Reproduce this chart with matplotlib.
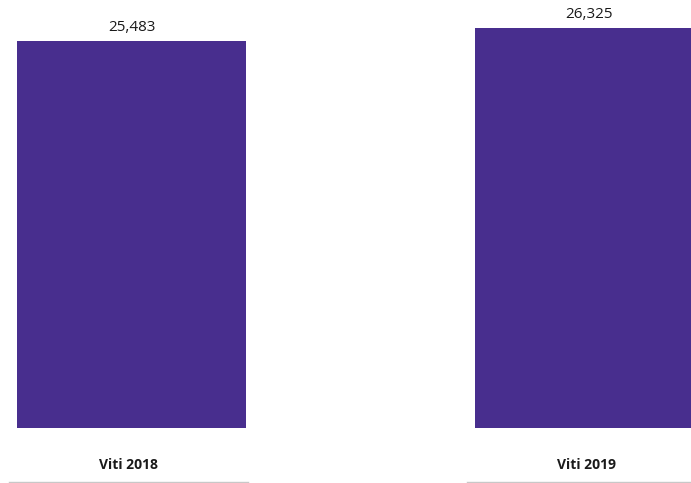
import matplotlib
matplotlib.use("Agg")
import matplotlib.pyplot as plt
import matplotlib.transforms as mtransforms

# --- data ---
categories = ["Viti 2018", "Viti 2019"]
values = [25483, 26325]
value_labels = ["25,483", "26,325"]

plt.rcParams['font.family'] = ['Open Sans', 'DejaVu Sans']

W, H = 691, 483
fig = plt.figure(figsize=(W / 100, H / 100), dpi=100)
# axes: whole width, bottom at the bar baseline (y=428 px from top)
ax = fig.add_axes([0, (H - 428) / H, 1, 428 / H])

spacing = 458.0          # px between bar centres
x0 = 131.5               # px of first bar centre
xs = list(range(len(categories)))
ax.bar(xs, values, width=229 / spacing, color="#482E8E")

ax.set_xlim(-x0 / spacing, (W - x0) / spacing)
ax.set_ylim(0, 428 / 0.01519)
ax.axis("off")

for x, v, lab in zip(xs, values, value_labels):
    ax.annotate(lab, (x, v), xytext=(0, 9.8), textcoords="offset points",
                ha="center", va="center", fontsize=11, color="#1a1a1a")

trans = mtransforms.blended_transform_factory(ax.transData, ax.transAxes)
for x, cat in zip(xs, categories):
    ax.text(x - 3 / spacing, -37 / 428, cat, transform=trans, ha="center",
            va="center", fontsize=10, fontweight="bold", color="#1a1a1a")
    ax.plot([x - 122 / spacing, x + 117 / spacing], [-54 / 428, -54 / 428],
            transform=trans, color="#c8c8c8", lw=1, clip_on=False)

fig.savefig("out.png", dpi=100)
